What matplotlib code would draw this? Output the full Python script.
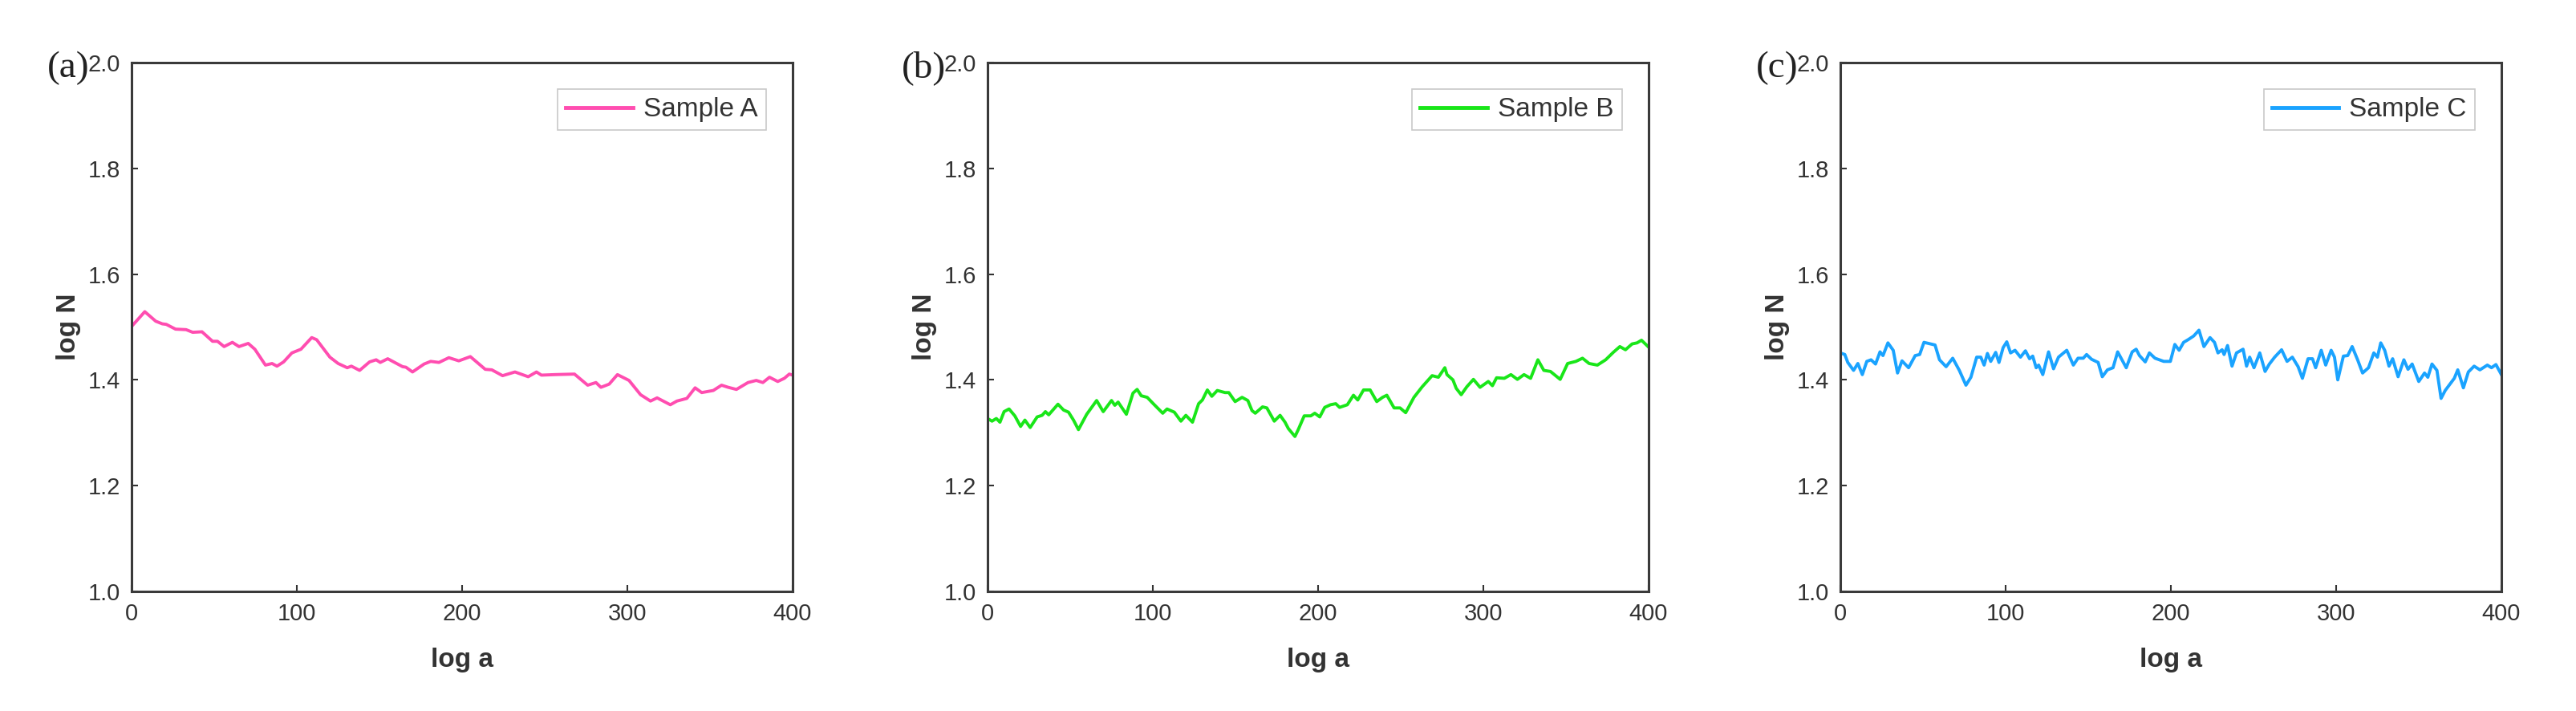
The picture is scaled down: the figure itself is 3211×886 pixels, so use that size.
import numpy as np
import matplotlib
matplotlib.use("Agg")
import matplotlib.pyplot as plt

plt.rcParams["font.family"] = ["Liberation Sans", "DejaVu Sans"]

a_x = [0, 8, 14.6, 18.6, 21, 26.6, 33, 37, 42.6, 49, 52, 56, 61, 65, 70.6, 74.6, 81, 85, 88, 92,
       97, 102.5, 109, 112, 120, 125, 130.5, 133, 138, 144, 148, 150.5, 155, 164, 166, 170, 177,
       181, 186, 192, 198, 205, 214, 218, 224.5, 232, 240, 245, 248, 256, 268, 276, 281, 284, 289,
       294, 301, 308, 314, 318, 326, 330, 336, 341, 345, 352, 357, 361, 366, 373, 378, 382, 386,
       391, 395, 398, 400]
a_y = [1.501, 1.529, 1.511, 1.506, 1.505, 1.496, 1.495, 1.490, 1.491, 1.473, 1.473, 1.463, 1.471,
       1.463, 1.469, 1.458, 1.428, 1.431, 1.426, 1.434, 1.451, 1.458, 1.480, 1.476, 1.443, 1.431,
       1.423, 1.426, 1.418, 1.434, 1.438, 1.433, 1.440, 1.425, 1.424, 1.415, 1.430, 1.435, 1.433,
       1.442, 1.436, 1.444, 1.420, 1.419, 1.408, 1.415, 1.406, 1.415, 1.409, 1.410, 1.411, 1.390,
       1.395, 1.386, 1.392, 1.410, 1.399, 1.372, 1.360, 1.366, 1.353, 1.360, 1.365, 1.385, 1.376,
       1.380, 1.390, 1.386, 1.382, 1.395, 1.399, 1.395, 1.405, 1.397, 1.403, 1.411, 1.409]

b_x = [0, 2.7, 5.3, 7.5, 10, 13, 16.5, 20, 22.6, 25.8, 30, 33, 35, 37, 42.6, 46, 49, 52, 55, 60,
       66, 70, 75, 77, 79, 84, 88, 90.5, 93, 96.6, 100.6, 106, 108.6, 113, 117, 120, 124, 127.7,
       130, 133, 135.7, 139, 143.7, 146, 149.8, 154, 157.5, 160, 162, 166.4, 169, 173.5, 177, 180,
       182, 186, 188, 191.6, 195.6, 198, 201, 204, 207.5, 210.7, 213, 217.7, 221.4, 224, 227.5,
       231.5, 235.5, 239, 241.6, 246, 249.6, 253, 258, 263, 269, 272.8, 276.7, 278, 281.6, 283.6,
       286.6, 290, 294, 298, 303, 305.5, 308, 312.7, 316.7, 320.6, 324.6, 328.6, 333, 336.6,
       340.6, 346.5, 351, 356, 360, 364, 369, 374, 378.6, 382.6, 386, 390, 393, 395.7, 400]
b_y = [1.327, 1.322, 1.327, 1.320, 1.340, 1.345, 1.332, 1.312, 1.324, 1.310, 1.330, 1.333, 1.340,
       1.334, 1.354, 1.343, 1.339, 1.324, 1.306, 1.335, 1.361, 1.340, 1.361, 1.352, 1.358, 1.335,
       1.375, 1.382, 1.370, 1.367, 1.354, 1.337, 1.345, 1.339, 1.322, 1.333, 1.320, 1.355, 1.362,
       1.381, 1.369, 1.380, 1.376, 1.376, 1.359, 1.367, 1.361, 1.342, 1.337, 1.349, 1.347, 1.322,
       1.333, 1.320, 1.308, 1.293, 1.306, 1.332, 1.332, 1.337, 1.330, 1.348, 1.353, 1.355, 1.348,
       1.353, 1.371, 1.362, 1.381, 1.381, 1.359, 1.367, 1.371, 1.347, 1.347, 1.338, 1.367, 1.387,
       1.408, 1.405, 1.423, 1.410, 1.400, 1.384, 1.372, 1.387, 1.401, 1.386, 1.397, 1.389, 1.404,
       1.403, 1.410, 1.401, 1.410, 1.403, 1.438, 1.418, 1.416, 1.401, 1.431, 1.435, 1.441, 1.431,
       1.428, 1.438, 1.452, 1.463, 1.457, 1.468, 1.470, 1.475, 1.462]

c_x = [0, 2.7, 4.5, 8, 10.6, 13.3, 16, 18.6, 21.3, 24, 25.8, 28.8, 32, 34.6, 37.3, 41.3, 45.3, 48,
       50.6, 54.6, 57.3, 60, 64, 68, 72, 76, 79, 82.5, 85, 87, 89, 91, 94, 96, 98.5, 100.7, 103,
       105.7, 109, 112, 114.5, 116.4, 118.5, 120, 122.5, 126, 129, 132, 137, 141, 143.8, 147, 149,
       152, 156, 158.5, 161.6, 165, 167.8, 170.4, 173, 176.6, 179, 181, 184.5, 187, 190.4, 195.7,
       199.7, 202.4, 205, 207.7, 210.4, 213.8, 217, 220, 223.7, 226.4, 228.5, 231, 232.2, 234.3,
       237, 239.7, 243.7, 245.8, 247.7, 250.3, 253.8, 257, 259.6, 262.8, 267, 270.3, 273.5, 277,
       279.6, 283, 285.7, 287.6, 291, 293.7, 297, 299, 301, 304.4, 307, 309.7, 313, 316, 319.6,
       322.8, 325, 327, 329.4, 332, 334.2, 337.5, 341, 343.5, 346, 350, 353.5, 355.5, 358, 361,
       363.5, 366, 371.5, 373.6, 377, 380, 383.5, 387, 391.5, 394, 396.7, 400]
c_y = [1.451, 1.448, 1.433, 1.418, 1.431, 1.410, 1.435, 1.438, 1.430, 1.453, 1.446, 1.470, 1.456,
       1.413, 1.436, 1.423, 1.446, 1.448, 1.471, 1.468, 1.466, 1.438, 1.425, 1.441, 1.418, 1.390,
       1.405, 1.443, 1.443, 1.428, 1.450, 1.435, 1.452, 1.433, 1.461, 1.472, 1.451, 1.456, 1.443,
       1.455, 1.440, 1.445, 1.423, 1.428, 1.410, 1.453, 1.421, 1.443, 1.456, 1.428, 1.441, 1.441,
       1.448, 1.439, 1.433, 1.406, 1.419, 1.423, 1.453, 1.438, 1.423, 1.453, 1.458, 1.446, 1.434,
       1.451, 1.441, 1.435, 1.435, 1.467, 1.456, 1.471, 1.476, 1.483, 1.494, 1.463, 1.480, 1.471,
       1.451, 1.457, 1.448, 1.465, 1.426, 1.451, 1.458, 1.426, 1.443, 1.423, 1.451, 1.416, 1.430,
       1.443, 1.457, 1.435, 1.443, 1.425, 1.403, 1.440, 1.440, 1.423, 1.456, 1.428, 1.456, 1.443,
       1.400, 1.445, 1.446, 1.463, 1.438, 1.413, 1.423, 1.451, 1.443, 1.470, 1.456, 1.426, 1.440,
       1.406, 1.438, 1.420, 1.430, 1.397, 1.413, 1.405, 1.430, 1.418, 1.365, 1.380, 1.403, 1.419,
       1.385, 1.415, 1.426, 1.419, 1.428, 1.423, 1.429, 1.410]

panels = [("(a)", "Sample A", a_x, a_y, "#ff4db0"),
          ("(b)", "Sample B", b_x, b_y, "#19e619"),
          ("(c)", "Sample C", c_x, c_y, "#1aa3ff")]

W, H = 3212, 886
fig = plt.figure(figsize=(W / 100, H / 100), dpi=100)

lefts = [164, 1231, 2294]
for left, (tag, name, xs, ys, col) in zip(lefts, panels):
    ax = fig.add_axes([left / W, (H - 737) / H, 824 / W, 659 / H])
    ax.plot(xs, ys, color=col, lw=2.8, label=name)
    ax.set_xlim(0, 400)
    ax.set_ylim(1.0, 2.0)
    ax.set_xticks(np.arange(0, 401, 100))
    ax.set_yticks(np.arange(1.0, 2.01, 0.2))
    ax.yaxis.set_major_formatter(matplotlib.ticker.FormatStrFormatter("%.1f"))
    ax.tick_params(direction="in", length=6, width=1.5, color="#333333",
                   labelsize=21, labelcolor="#333333", pad=10)
    for sp in ax.spines.values():
        sp.set_linewidth(2.2)
        sp.set_color("#3a3a3a")
    ax.set_xlabel("log a", fontsize=24, fontweight="bold", color="#333333", labelpad=20)
    ax.set_ylabel("log N", fontsize=24, fontweight="bold", color="#333333", labelpad=6)
    leg = ax.legend(loc="upper right", fontsize=24, frameon=True, fancybox=False,
                    borderpad=0.3, handlelength=2.5, handletextpad=0.4,
                    borderaxespad=1.0)
    leg.get_frame().set_edgecolor("#bbbbbb")
    leg.get_frame().set_linewidth(1.2)
    for t in leg.get_texts():
        t.set_color("#333333")
    for h in leg.get_lines():
        h.set_linewidth(3.5)
    fig.text((left - 52) / W, (H - 85) / H, tag, family="Liberation Serif",
             fontsize=34, ha="right", va="center", color="#222222")

fig.savefig("out.png", dpi=100)
